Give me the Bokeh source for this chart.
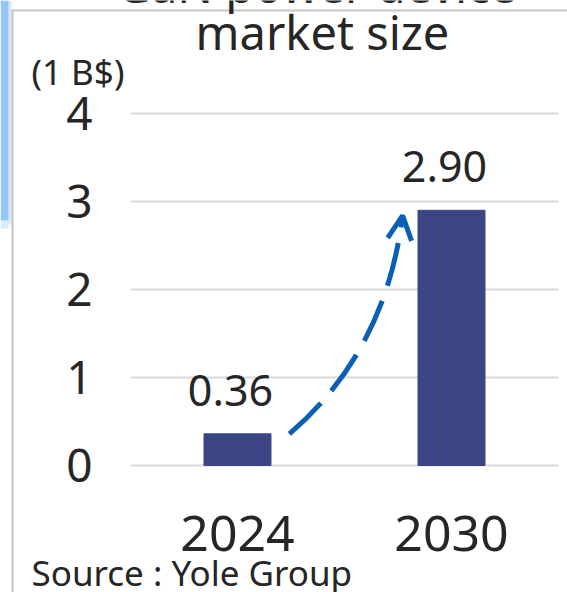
from bokeh.plotting import figure
from bokeh.models import (ColumnDataSource, Range1d, Label, LabelSet,
                          BoxAnnotation, Arrow, OpenHead, FixedTicker)
from bokeh.embed import file_html
from bokeh.resources import INLINE
from bokeh.core.properties import value

# ---- data ----
years = ["2024", "2030"]
market = [0.36, 2.90]
market_labels = ["0.36", "2.90"]
y_ticks = [0, 1, 2, 3, 4]
title_lines = ["GaN power device", "market size"]
unit_label = "(1 B$)"
source_note = "Source : Yole Group"

FONT = "Noto Sans"
TXT = "#262626"
BAR = "#3b4586"
ARROW = "#0b5fb5"
GRID = "#d9d9d9"

W, H = 567, 592
# chart area inside the canvas (pixels): x 130..558, baseline (value 0) at y 465
AREA_L, AREA_R, ZERO_Y, PX_PER_UNIT = 130, 558, 465, 88.0
n = len(years)
xpos = list(range(n))                       # category index positions
band = (AREA_R - AREA_L) / n                # pixels per category
x_start = -0.5 - AREA_L / band
x_end = (n - 0.5) + (W - AREA_R) / band
y_start = -(H - ZERO_Y) / PX_PER_UNIT
y_end = ZERO_Y / PX_PER_UNIT

p = figure(width=W, height=H, x_range=Range1d(x_start, x_end),
           y_range=Range1d(y_start, y_end), title_location=None,
           output_backend="svg", toolbar_location=None,
           min_border=0, min_border_left=0, min_border_right=0,
           min_border_top=0, min_border_bottom=0)
p.outline_line_color = None
p.background_fill_color = "white"
p.border_fill_color = "white"
p.xgrid.grid_line_color = None
p.ygrid.grid_line_color = None

# horizontal gridlines across the category area
p.segment(x0=[-0.5] * len(y_ticks), x1=[n - 0.5] * len(y_ticks),
          y0=y_ticks, y1=y_ticks, line_color=GRID, line_width=2)

src = ColumnDataSource(dict(x=xpos, value=market, label=market_labels))
BAR_W = 0.313
p.vbar(x="x", top="value", width=BAR_W, source=src,
       fill_color=BAR, line_color=BAR)

p.add_layout(LabelSet(x="x", y="value", text="label", source=src,
                      x_offset=-7, y_offset=28, text_align="center",
                      text_baseline="alphabetic", text_font=value(FONT),
                      text_font_size="43px", text_color=TXT))

# axes, pinned to the chart area
ya = p.yaxis[0]
ya.fixed_location = -0.5
ya.ticker = FixedTicker(ticks=y_ticks)
ya.axis_line_color = None
ya.major_tick_line_color = None
ya.minor_tick_line_color = None
ya.major_label_text_font = FONT
ya.major_label_text_font_size = "46px"
ya.major_label_text_color = TXT
ya.major_label_standoff = 32

xa = p.xaxis[0]
xa.fixed_location = 0
xa.ticker = FixedTicker(ticks=xpos)
xa.major_label_overrides = {i: y for i, y in zip(xpos, years)}
xa.axis_line_color = None
xa.major_tick_line_color = None
xa.minor_tick_line_color = None
xa.major_label_text_font = FONT
xa.major_label_text_font_size = "50px"
xa.major_label_text_color = TXT
xa.major_label_standoff = 44

# growth arrow, anchored on the bars
x0 = xpos[0] + BAR_W / 2 + 0.086
y0 = market[0]
x1 = xpos[1] - BAR_W / 2 - 0.072
y1 = market[1] - 0.06
cx, cy = xpos[1] - 0.308, 1.295
p.quadratic(x0=[x0], y0=[y0], x1=[x1], y1=[y1], cx=[cx], cy=[cy],
            line_color=ARROW, line_width=5, line_dash="44 16")
p.add_layout(Arrow(end=OpenHead(size=24, line_color=ARROW, line_width=5),
                   x_start=x1 - 0.1 * (x1 - cx), y_start=y1 - 0.1 * (y1 - cy),
                   x_end=x1, y_end=y1, line_alpha=0))

# texts around the chart (screen units: canvas pixels from bottom-left)
def lab(text, x_canvas, base_canvas, size, align="center"):
    px = float(size.rstrip("px"))
    return Label(x=x_canvas, y=H - base_canvas + 0.43 * px,
                 x_units="screen", y_units="screen", text=text,
                 text_align=align, text_baseline="alphabetic",
                 text_font=FONT, text_font_size=size, text_color=TXT)

# frame decoration: left blue strip and grey border
def box(l, r, t, b, color, alpha=1.0):
    return BoxAnnotation(left=l, right=r, top=H - t, bottom=H - b,
                         left_units="screen", right_units="screen",
                         top_units="screen", bottom_units="screen",
                         fill_color=color, fill_alpha=alpha, line_color=None)

p.add_layout(box(0, 8, 0, 220, "#96c6f5"))
p.add_layout(box(8, 11, 0, 224, "#96c6f5", 0.4))
p.add_layout(box(0, 8, 220, 228, "#96c6f5", 0.35))
p.add_layout(box(11, 13, 9, H, "#c4c4c4"))
p.add_layout(box(11, W, 9, 11, "#c4c4c4"))

p.add_layout(lab(title_lines[0], 316, 5, "47px"))
p.add_layout(lab(title_lines[1], 322, 52, "47px"))
p.add_layout(lab(unit_label, 31, 86, "35px", "left"))
p.add_layout(lab(source_note, 31, 587, "35px", "left"))

open("out.html", "w").write(file_html(p, INLINE))
